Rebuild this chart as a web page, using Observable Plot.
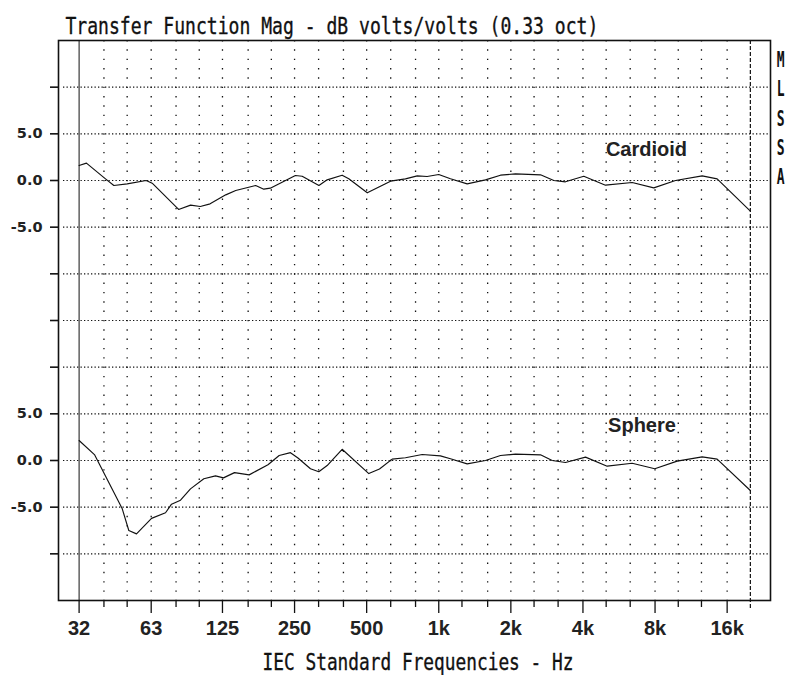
<!DOCTYPE html>
<html>
<head>
<meta charset="utf-8">
<script src="https://cdn.jsdelivr.net/npm/d3@7"></script>
<script src="https://cdn.jsdelivr.net/npm/@observablehq/plot@0.6"></script>
<style>
  body { margin: 0; background: #fff; }
  #chart { width: 787px; height: 675px; }
</style>
</head>
<body>
<div id="chart"></div>
<script>
// ---- data ----
const cardioidFreq = [31.5, 33.8, 40.6, 44, 50, 60, 63.6, 82, 92, 101, 111, 129, 142, 172, 186, 198, 252, 269, 316, 342, 395, 421, 503, 629, 726, 813, 894, 1000, 1119, 1314, 1567, 1810, 2091, 2660, 3023, 3381, 4032, 4968, 6420, 7903, 9737, 12584, 14534, 20000];
const cardioidDb   = [1.6, 1.86, 0.18, -0.54, -0.36, 0.0, -0.29, -3.1, -2.64, -2.79, -2.5, -1.54, -1.07, -0.54, -0.93, -0.82, 0.54, 0.46, -0.54, 0.07, 0.57, 0.18, -1.32, -0.07, 0.18, 0.5, 0.43, 0.64, 0.18, -0.36, 0.07, 0.57, 0.71, 0.61, 0.0, -0.14, 0.46, -0.5, -0.21, -0.79, 0.0, 0.5, 0.18, -3.29];

const sphereFreq = [31.5, 36.6, 47.7, 50.8, 54.7, 63.2, 72.3, 76.6, 83.5, 91.9, 104.5, 116.9, 126.2, 140.3, 161.6, 193.6, 215.6, 240.4, 258.3, 291.3, 315.6, 342, 395, 510.4, 565.6, 639, 726, 852.8, 1016, 1119, 1314, 1567, 1810, 2091, 2660, 2976, 3381, 4100, 5050, 6420, 7980, 9895, 12584, 14534, 20000];
const sphereDb   = [2.14, 0.6, -5.18, -7.5, -7.86, -6.2, -5.6, -4.68, -4.25, -3.04, -1.96, -1.65, -1.86, -1.3, -1.54, -0.45, 0.54, 0.84, 0.27, -0.89, -1.2, -0.54, 1.2, -1.4, -0.91, 0.15, 0.3, 0.64, 0.5, 0.18, -0.36, 0.0, 0.54, 0.68, 0.61, 0.0, -0.21, 0.36, -0.61, -0.29, -0.89, -0.07, 0.39, 0.14, -3.21];

const seriesNames = ["Cardioid", "Sphere"];

const majorFreqs  = [31.5, 63, 125, 250, 500, 1000, 2000, 4000, 8000, 16000];
const majorLabels = ["32", "63", "125", "250", "500", "1k", "2k", "4k", "8k", "16k"];
const minorFreqs  = [40, 50, 80, 100, 160, 200, 315, 400, 630, 800, 1250, 1600, 2500, 3150, 5000, 6300, 10000, 12500];
const gridFreqs   = [40, 50, 63, 80, 100, 125, 160, 200, 250, 315, 400, 500, 630, 800, 1000, 1250, 1600, 2000, 2500, 3150, 4000, 5000, 6300, 8000, 10000, 12500, 16000];
const upperFreq   = 20000;
const lowerFreq   = 31.5;

// each pane shows +/-15 dB; sphere pane sits one pane (30 dB) below
const paneOffset  = 30;
const gridLevels  = [10, 5, 0, -5, -10, -15, -20, -25, -30, -35, -40];
const labelLevels = [5, 0, -5, -25, -30, -35];
const levelText   = ["5.0", "0.0", "-5.0", "5.0", "0.0", "-5.0"];

const titleText  = "Transfer Function Mag - dB volts/volts (0.33 oct)";
const xTitleText = "IEC Standard Frequencies - Hz";
const sideText   = "M\nL\nS\nS\nA";

// ---- tables ----
const cardioid = cardioidFreq.map((f, i) => ({f, db: cardioidDb[i]}));
const sphere = sphereFreq.map((f, i) => ({f, db: sphereDb[i]}));
const majorTable = majorFreqs.map((f, i) => ({f, label: majorLabels[i]}));
const levelMap = new Map(labelLevels.map((v, i) => [v, levelText[i]]));

const mono = "DejaVu Sans Mono";
const sans = "Liberation Sans, Arial, sans-serif";

const chart = Plot.plot({
  width: 787,
  height: 675,
  marginLeft: 58,
  marginRight: 17,
  marginTop: 40,
  marginBottom: 75,
  style: {background: "#fff", color: "#111", overflow: "visible"},
  x: {type: "log", domain: [25.84, 24274], axis: null},
  y: {domain: [-45, 15], axis: null},
  marks: [
    // dotted grid
    Plot.ruleY(gridLevels, {y: d => d, stroke: "#111", strokeWidth: 1.2, strokeDasharray: "1.3,2.2", insetLeft: 5}),
    Plot.ruleX(gridFreqs, {x: d => d, stroke: "#111", strokeWidth: 1.3, strokeDasharray: "1.4,7.93"}),
    // 20k dashed limit and 32 Hz solid line
    Plot.ruleX([upperFreq], {x: d => d, stroke: "#111", strokeWidth: 1.2, strokeDasharray: "4,2", insetBottom: -10}),
    Plot.ruleX([lowerFreq], {x: d => d, stroke: "#111", strokeWidth: 1}),
    Plot.frame({stroke: "#111", strokeWidth: 1.6}),
    // curves
    Plot.line(cardioid, {x: "f", y: "db", stroke: "#111", strokeWidth: 1.15}),
    Plot.line(sphere, {x: "f", y: d => d.db - paneOffset, stroke: "#111", strokeWidth: 1.15}),
    // series labels
    Plot.text([seriesNames[0]], {x: 7368, y: 3.3, text: d => d, fontFamily: sans, fontWeight: "bold", fontSize: 20, fill: "#222", textAnchor: "middle", lineAnchor: "middle"}),
    Plot.text([seriesNames[1]], {x: 7056, y: 3.75 - paneOffset, text: d => d, fontFamily: sans, fontWeight: "bold", fontSize: 20, fill: "#222", textAnchor: "middle", lineAnchor: "middle"}),
    // x axis: tick marks + labels
    Plot.axisX(majorFreqs, {tickSize: 13, tickFormat: () => "", stroke: "#111", strokeWidth: 1.3, label: null}),
    Plot.axisX(minorFreqs, {tickSize: 7, tickFormat: () => "", stroke: "#111", strokeWidth: 1.3, label: null}),
    Plot.text(majorTable, {x: "f", frameAnchor: "bottom", dy: 20, lineAnchor: "top", text: "label", textAnchor: "middle", fontFamily: sans, fontWeight: "bold", fontSize: 20, fill: "#222"}),
    // y axis
    Plot.axisY(gridLevels, {tickSize: 8, tickPadding: 8, tickFormat: d => levelMap.get(d) ?? "", fontFamily: "DejaVu Sans", fontWeight: "bold", fontSize: 14.5, fill: "#222", stroke: "#111", strokeWidth: 1.6, label: null}),
    // titles
    Plot.text([titleText], {frameAnchor: "top-left", text: d => d, dx: 7, dy: -6.7, lineAnchor: "bottom", textAnchor: "start", fontFamily: mono, fontSize: 23, fill: "#111", stroke: "#111", strokeWidth: 0.35}),
    Plot.text([xTitleText], {frameAnchor: "bottom", text: d => d, dx: 3.5, dy: 69, lineAnchor: "bottom", textAnchor: "middle", fontFamily: mono, fontSize: 23, fill: "#111", stroke: "#111", strokeWidth: 0.35}),
    Plot.text([sideText], {frameAnchor: "top-right", text: d => d, dx: 10, dy: 5.9, lineAnchor: "top", textAnchor: "middle", lineHeight: 1.395, fontFamily: mono, fontSize: 21, fontWeight: "bold", fill: "#111"})
  ]
});

document.getElementById("chart").appendChild(chart);

// condense the monospaced texts horizontally to match the narrow bitmap font
function condense(content, targetWidth, fixedScale) {
  chart.querySelectorAll("text").forEach(el => {
    if (el.textContent.replace(/\s/g, "") !== content.replace(/\s/g, "")) return;
    const bb = el.getBBox();
    const anchor = el.getAttribute("text-anchor") || getComputedStyle(el).textAnchor || "start";
    const cx = anchor === "middle" ? bb.x + bb.width / 2 : bb.x;
    const sx = fixedScale ?? targetWidth / bb.width;
    const t = el.getAttribute("transform") || "";
    el.setAttribute("transform", `${t} translate(${cx},0) scale(${sx},1) translate(${-cx},0)`);
  });
}
condense(titleText, 533);
condense(xTitleText, 311);
condense(sideText, null, 0.62);
</script>
</body>
</html>
